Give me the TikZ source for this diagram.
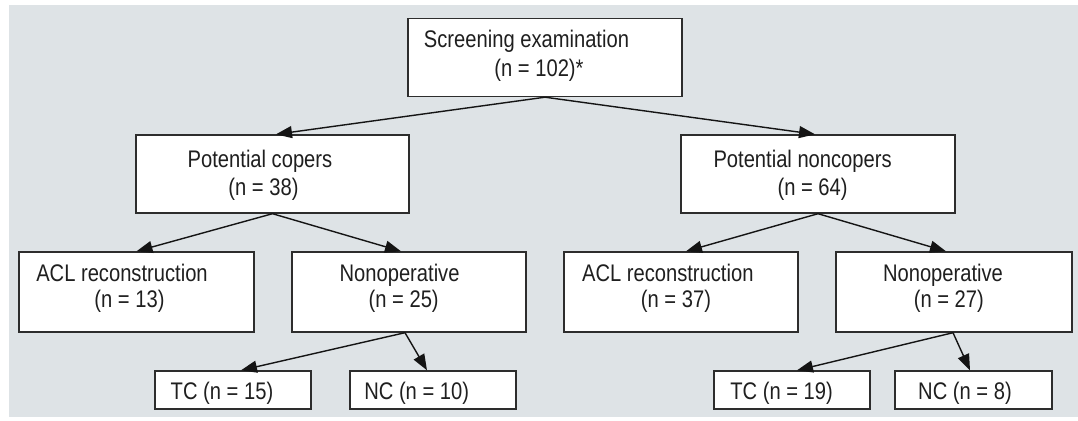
\documentclass[tikz,border=0pt]{standalone}
\usepackage{fontspec}
\setmainfont{Liberation Sans}[FakeStretch=0.84]
\usetikzlibrary{arrows.meta}
\definecolor{bggray}{RGB}{222,227,230}
\definecolor{boxline}{RGB}{45,45,45}
\definecolor{arrowc}{RGB}{20,20,20}
\tikzset{
  box/.style={draw=boxline, line width=1.4pt, fill=white, inner sep=0pt, rectangle},
  txt/.style={anchor=base, inner sep=0pt, text=black!88, font=\fontsize{24}{28}\selectfont},
  conn/.style={draw=arrowc, line width=1.4pt, -{Triangle[length=16pt,width=12pt]}}
}
\begin{document}
\begin{tikzpicture}[x=1pt,y=-1pt]
\useasboundingbox (0,0) rectangle (1078,420);
\fill[white] (0,0) rectangle (1078,420);
\fill[bggray] (9,5) rectangle (1078,417);

% boxes
\node[box, minimum width=274pt, minimum height=78pt] (root) at (545,57.5) {};
\node[box, minimum width=273pt, minimum height=78pt] (copers) at (272.5,174) {};
\node[box, minimum width=274pt, minimum height=78pt] (noncopers) at (818,174) {};
\node[box, minimum width=235pt, minimum height=80pt] (aclL) at (136.5,292) {};
\node[box, minimum width=234pt, minimum height=80pt] (nonopL) at (409,292) {};
\node[box, minimum width=234pt, minimum height=80pt] (aclR) at (681,292) {};
\node[box, minimum width=236pt, minimum height=80pt] (nonopR) at (954,292) {};
\node[box, minimum width=156pt, minimum height=38pt] (tcL) at (233,390) {};
\node[box, minimum width=166pt, minimum height=38pt] (ncL) at (433,390) {};
\node[box, minimum width=156pt, minimum height=38pt] (tcR) at (792,390) {};
\node[box, minimum width=157pt, minimum height=38pt] (ncR) at (973.5,390) {};

% texts
\node[txt] (rootA) at (526.5,48) {Screening examination};
\node[txt] (rootB) at (539,77) {(n = 102)*};
\node[txt] (copA) at (260,167) {Potential copers};
\node[txt] (copB) at (263.5,195) {(n = 38)};
\node[txt] (ncopA) at (802.6,167) {Potential noncopers};
\node[txt] (ncopB) at (812.6,195) {(n = 64)};
\node[txt] (aclLA) at (122,281) {ACL reconstruction};
\node[txt] (aclLB) at (129.5,307) {(n = 13)};
\node[txt] (nonopLA) at (399.6,281) {Nonoperative};
\node[txt] (nonopLB) at (403.7,307) {(n = 25)};
\node[txt] (aclRA) at (667.8,281) {ACL reconstruction};
\node[txt] (aclRB) at (676,307) {(n = 37)};
\node[txt] (nonopRA) at (943,281) {Nonoperative};
\node[txt] (nonopRB) at (948.8,307) {(n = 27)};
\node[txt] (tcLT) at (222,399.5) {TC (n = 15)};
\node[txt] (ncLT) at (416.7,399.5) {NC (n = 10)};
\node[txt] (tcRT) at (781.6,399.5) {TC (n = 19)};
\node[txt] (ncRT) at (965,399.5) {NC (n = 8)};

% connectors
\draw[conn] (root.south) -- ([xshift=3.5pt]copers.north);
\draw[conn] (root.south) -- ([xshift=-3pt]noncopers.north);
\draw[conn] (copers.south) -- (aclL.north);
\draw[conn] (copers.south) -- ([xshift=-8pt]nonopL.north);
\draw[conn] ([xshift=-4pt]nonopL.south) -- ([xshift=8pt]tcL.north);
\draw[conn] ([xshift=-4pt]nonopL.south) -- ([xshift=-6pt]ncL.north);
\draw[conn] (noncopers.south) -- ([xshift=5pt]aclR.north);
\draw[conn] (noncopers.south) -- ([xshift=-8pt]nonopR.north);
\draw[conn] ([xshift=-1pt]nonopR.south) -- ([xshift=5pt]tcR.north);
\draw[conn] ([xshift=-1pt]nonopR.south) -- ([xshift=-3.5pt]ncR.north);
\end{tikzpicture}
\end{document}
